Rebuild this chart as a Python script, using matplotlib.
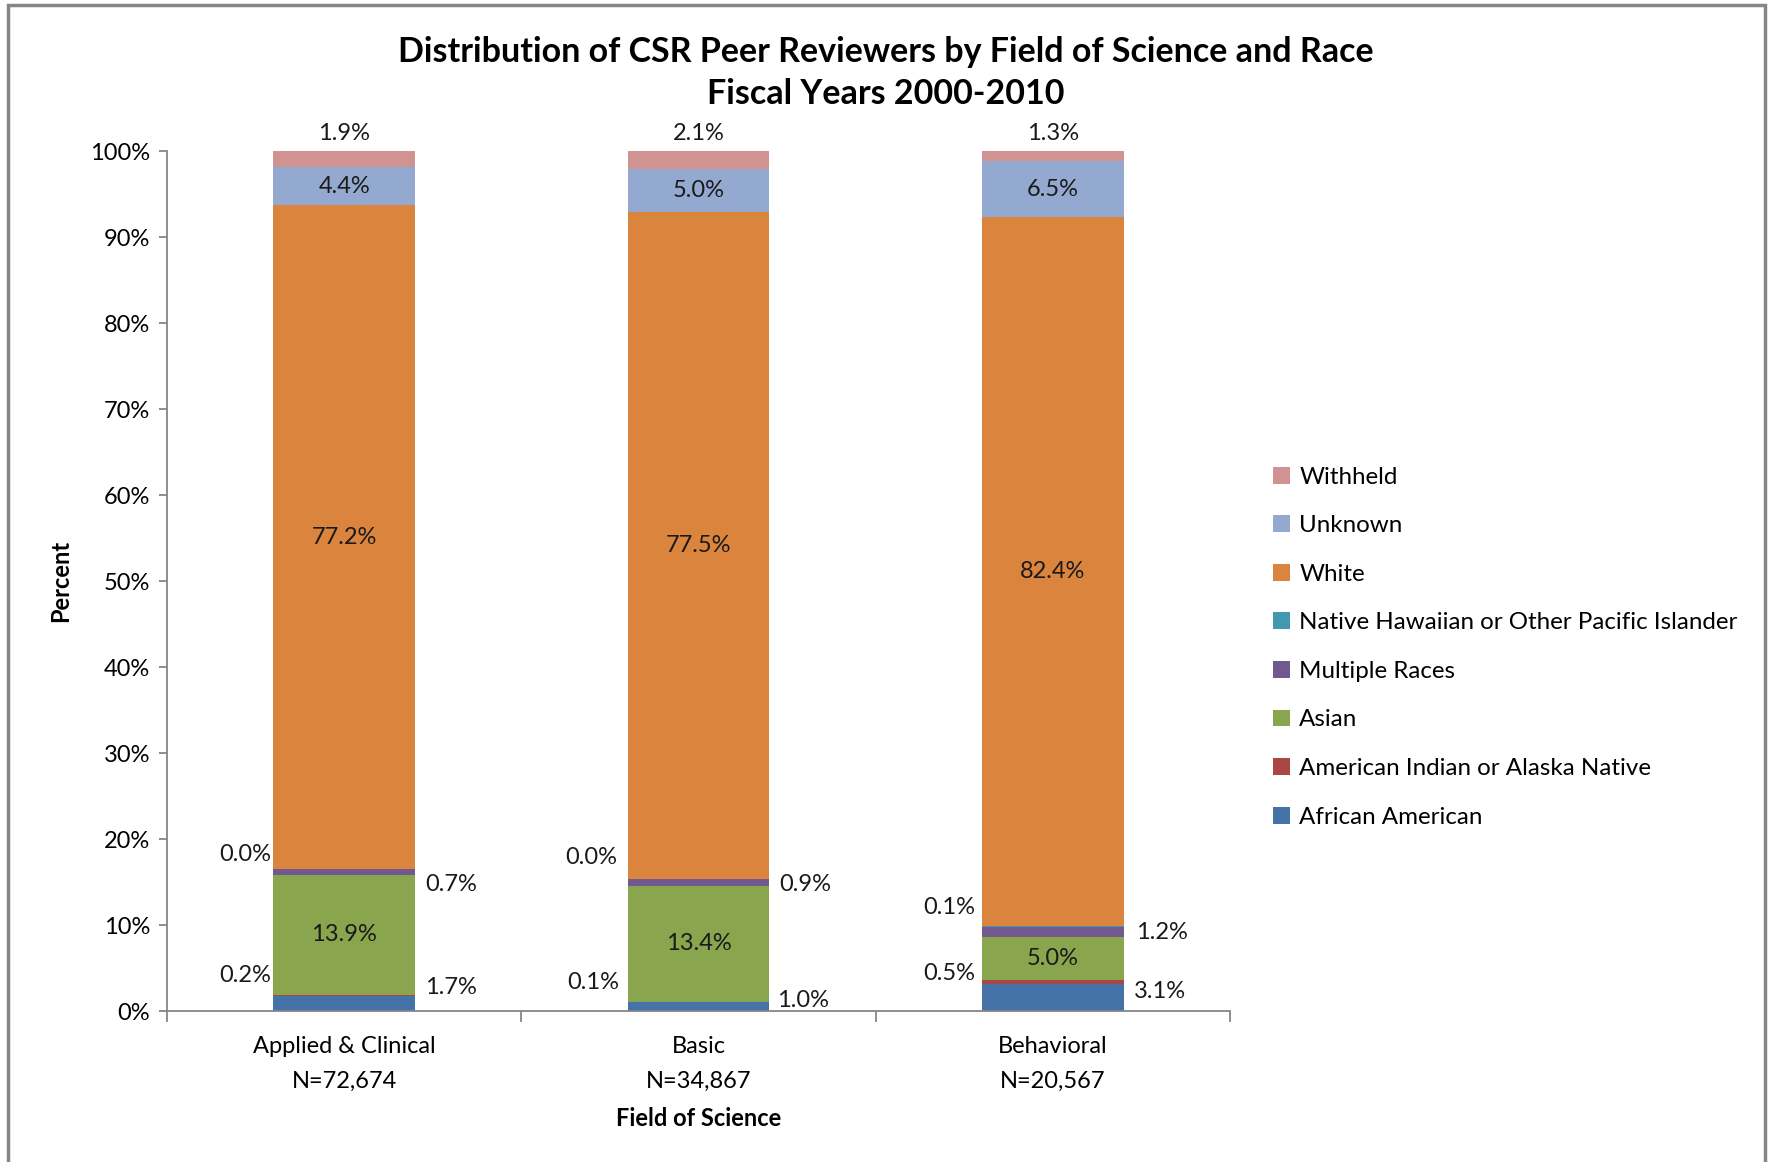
import numpy as np
import matplotlib.pyplot as plt
from matplotlib.patches import Rectangle

plt.rcParams['font.family'] = ['Lato', 'DejaVu Sans']

# data
categories = ['Applied & Clinical\nN=72,674', 'Basic\nN=34,867', 'Behavioral\nN=20,567']
races = ['African American', 'American Indian or Alaska Native', 'Asian', 'Multiple Races',
         'Native Hawaiian or Other Pacific Islander', 'White', 'Unknown', 'Withheld']
african_american = [1.7, 1.0, 3.1]
american_indian = [0.2, 0.1, 0.5]
asian = [13.9, 13.4, 5.0]
multiple = [0.7, 0.9, 1.2]
native_hawaiian = [0.0, 0.0, 0.1]
white = [77.2, 77.5, 82.4]
unknown = [4.4, 5.0, 6.5]
withheld = [1.9, 2.1, 1.3]

colors = ['#4572A7', '#AA4643', '#89A54E', '#71588F', '#4198AF', '#DB843D', '#93A9CF', '#D19392']

# label offsets (pixels) for the small segments drawn outside the bars
# side: -1 left of bar, +1 right of bar
outside = {
    0: (+1, [(10, 16), (8, 6), (10, 6)]),      # African American
    1: (-1, [(-2, 20), (-8, 19), (-7, 9)]),    # American Indian
    3: (+1, [(10, -12), (10, -2), (12, -1)]),  # Multiple Races
    4: (-1, [(-2, 15), (-10, 21), (-7, 19)]),  # Native Hawaiian
}

W, H = 1769, 1162
fig = plt.figure(figsize=(W / 100, H / 100), dpi=100)
ax = fig.add_axes([167 / W, 1 - 1011 / H, (1230 - 167) / W, (1011 - 151) / H])

series = [african_american, american_indian, asian, multiple, native_hawaiian, white, unknown, withheld]
x = np.arange(len(categories))
bw = 0.4
bottom = np.zeros(len(categories))
for k, (vals, name, c) in enumerate(zip(series, races, colors)):
    vals = np.array(vals)
    ax.bar(x, vals, bw, bottom=bottom, color=c, label=name, edgecolor='none')
    centers = bottom + vals / 2
    for i in range(len(x)):
        txt = f'{vals[i]:.1f}%'
        if k in outside:
            side, offs = outside[k]
            dx, dy = offs[i]
            xe = x[i] + side * bw / 2
            ax.annotate(txt, (xe, centers[i]), xytext=(dx, dy), textcoords='offset pixels',
                        ha='left' if side > 0 else 'right', va='center', fontsize=17,
                        color='#1a1a1a', annotation_clip=False)
        elif k == 7:
            ax.annotate(txt, (x[i], 100), xytext=(0, 18), textcoords='offset pixels',
                        ha='center', va='center', fontsize=17, color='#1a1a1a',
                        annotation_clip=False)
        else:
            ax.text(x[i], centers[i], txt, ha='center', va='center', fontsize=17, color='#1a1a1a')
    bottom = bottom + vals

ax.set_xlim(-0.5, 2.5)
ax.set_ylim(0, 100)
ax.set_yticks(np.arange(0, 101, 10))
ax.set_yticklabels([f'{v}%' for v in range(0, 101, 10)], fontsize=17)
ax.set_xticks(x)
ax.set_xticklabels(categories, fontsize=17, linespacing=1.8)
ax.set_xticks([-0.5, 0.5, 1.5, 2.5], minor=True)
ax.tick_params(axis='x', which='major', length=0, pad=18)
ax.tick_params(axis='x', which='minor', length=8, color='#868686', width=1.3)
ax.tick_params(axis='y', length=6, color='#868686', width=1.3, pad=6)
for s in ['top', 'right']:
    ax.spines[s].set_visible(False)
for s in ['left', 'bottom']:
    ax.spines[s].set_color('#868686')
    ax.spines[s].set_linewidth(1.3)

ax.set_ylabel('Percent', fontsize=17, fontweight='bold', labelpad=13)
ax.set_xlabel('Field of Science', fontsize=17, fontweight='bold', labelpad=11)

fig.text(886 / W, 1 - 52 / H, 'Distribution of CSR Peer Reviewers by Field of Science and Race',
         ha='center', va='center', fontsize=24.5, fontweight='bold')
fig.text(886 / W, 1 - 94 / H, 'Fiscal Years 2000-2010',
         ha='center', va='center', fontsize=24.5, fontweight='bold')

handles, labels = ax.get_legend_handles_labels()
fig.legend(handles[::-1], labels[::-1], loc='upper left', bbox_to_anchor=(1263 / W, 1 - 457 / H),
           frameon=False, fontsize=17.4, handlelength=0.7, handleheight=0.7, handletextpad=0.4,
           labelspacing=1.14, borderaxespad=0)

fig.patches.append(Rectangle((8 / W, -0.05), (1765 - 8) / W, 1.05 - 5 / H, transform=fig.transFigure,
                             fill=False, edgecolor='#868686', linewidth=2.5))

fig.savefig('out.png', dpi=100)
